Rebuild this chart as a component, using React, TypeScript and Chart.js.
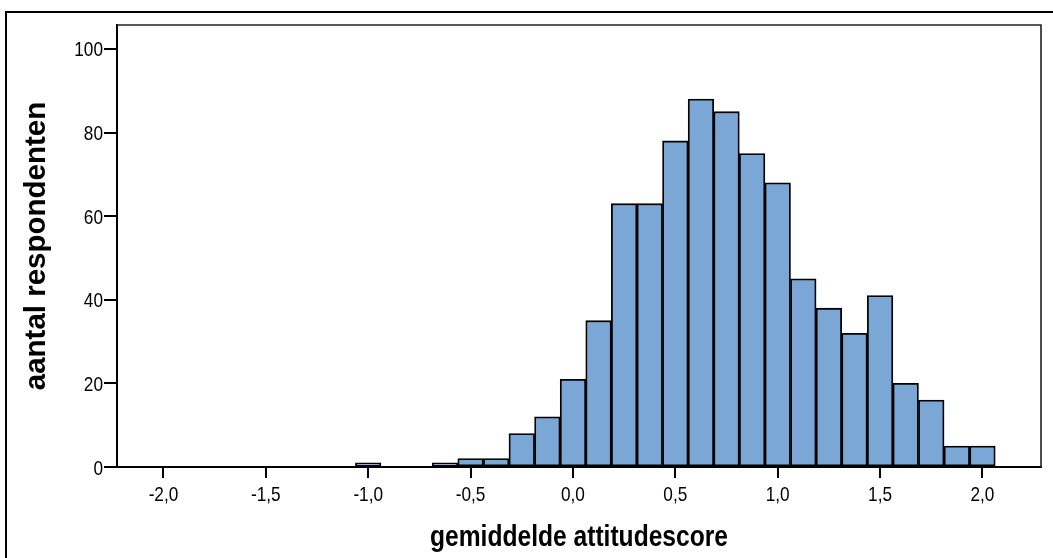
import React, { useEffect, useRef } from "react";
import { Chart, registerables } from "chart.js";

Chart.register(...registerables);

// Histogram bins (bin centres, width 0,125) and number of respondents
const binCenters: number[] = [
  -1.0, -0.875, -0.75, -0.625, -0.5, -0.375, -0.25, -0.125, 0.0, 0.125, 0.25, 0.375, 0.5,
  0.625, 0.75, 0.875, 1.0, 1.125, 1.25, 1.375, 1.5, 1.625, 1.75, 1.875, 2.0,
];
const counts: number[] = [
  1, 0, 0, 1, 2, 2, 8, 12, 21, 35, 63, 63, 78, 88, 85, 75, 68, 45, 38, 32, 41, 20, 16, 5, 5,
];
const xTicks: number[] = [-2.0, -1.5, -1.0, -0.5, 0.0, 0.5, 1.0, 1.5, 2.0];
const yTicks: number[] = [0, 20, 40, 60, 80, 100];
const xTitle = "gemiddelde attitudescore";
const yTitle = "aantal respondenten";

const FONT = '"Liberation Sans", Arial, sans-serif';
const NARROW_SCALE = 0.82;

const fmtX = (v: number) => v.toFixed(1).replace(".", ",");

function narrowText(ctx: any, text: string, x: number, y: number, align: string) {
  ctx.save();
  ctx.translate(x, y);
  ctx.scale(NARROW_SCALE, 1);
  ctx.textAlign = align;
  ctx.textBaseline = "alphabetic";
  ctx.fillText(text, 0, 0);
  ctx.restore();
}

const labelsPlugin = {
  id: "narrowLabels",
  afterDraw(chart: any) {
    const { ctx, chartArea, scales } = chart;
    ctx.save();
    ctx.fillStyle = "#000";
    // plot frame (top + right)
    ctx.strokeStyle = "#222";
    ctx.lineWidth = 1.6;
    ctx.beginPath();
    ctx.moveTo(chartArea.left, chartArea.top);
    ctx.lineTo(chartArea.right, chartArea.top);
    ctx.lineTo(chartArea.right, chartArea.bottom);
    ctx.stroke();
    // x tick labels
    ctx.font = `21px ${FONT}`;
    for (const v of xTicks) {
      const px = scales.x.getPixelForValue(v);
      narrowText(ctx, fmtX(v), px, chartArea.bottom + 34, "center");
    }
    // y tick labels
    for (const v of yTicks) {
      const py = scales.y.getPixelForValue(v);
      narrowText(ctx, String(v), chartArea.left - 14, py + 7.5, "right");
    }
    // x title
    ctx.font = `bold 30px ${FONT}`;
    narrowText(ctx, xTitle, (chartArea.left + chartArea.right) / 2, 546, "center");
    ctx.restore();
  },
};

export default function App() {
  const ref = useRef<HTMLCanvasElement | null>(null);

  useEffect(() => {
    if (!ref.current) return;
    const points = binCenters
      .map((x, i) => ({ x, y: counts[i] }))
      .filter((p) => p.y > 0);
    const chart = new Chart(ref.current, {
      type: "bar",
      data: {
        datasets: [
          {
            data: points as any,
            backgroundColor: "rgb(123,167,214)",
            borderColor: "#000",
            borderWidth: 1.8,
            borderSkipped: false,
            barPercentage: 1,
            categoryPercentage: 1,
          },
        ],
      },
      options: {
        animation: false,
        responsive: false,
        devicePixelRatio: 1,
        layout: { padding: { top: 25, right: 12, left: 0, bottom: 0 } },
        plugins: { legend: { display: false }, tooltip: { enabled: false } },
        scales: {
          x: {
            type: "linear",
            min: -2.227,
            max: 2.286,
            offset: false,
            afterFit: (s: any) => {
              s.height = 91;
            },
            afterBuildTicks: (s: any) => {
              s.ticks = xTicks.map((v) => ({ value: v }));
            },
            grid: {
              display: true,
              drawOnChartArea: false,
              drawTicks: true,
              tickLength: 11,
              color: "#000",
              lineWidth: 2,
              offset: false,
            },
            border: { display: true, color: "#000", width: 2 },
            ticks: { display: false },
          },
          y: {
            type: "linear",
            min: 0,
            max: 105.74,
            afterFit: (s: any) => {
              s.width = 117;
            },
            afterBuildTicks: (s: any) => {
              s.ticks = yTicks.map((v) => ({ value: v }));
            },
            grid: {
              display: true,
              drawOnChartArea: false,
              drawTicks: true,
              tickLength: 13,
              color: "#000",
              lineWidth: 2,
            },
            border: { display: true, color: "#000", width: 2 },
            ticks: { display: false },
            title: {
              display: true,
              text: yTitle,
              color: "#000",
              font: { family: FONT, size: 29.5, weight: "bold", lineHeight: 1.2 },
              padding: { top: 19, bottom: 0 },
            },
          },
        },
      },
      plugins: [labelsPlugin],
    });
    return () => chart.destroy();
  }, []);

  return (
    <div
      style={{
        position: "fixed",
        left: 0,
        top: 0,
        width: 1053,
        height: 558,
        background: "#fff",
        overflow: "hidden",
      }}
    >
      <div
        style={{
          position: "absolute",
          left: 5,
          top: 11,
          width: 2000,
          height: 2000,
          border: "2px solid #000",
          boxSizing: "border-box",
        }}
      />
      <canvas
        ref={ref}
        width={1053}
        height={558}
        style={{ position: "absolute", left: 0, top: 0, width: 1053, height: 558 }}
      />
    </div>
  );
}
